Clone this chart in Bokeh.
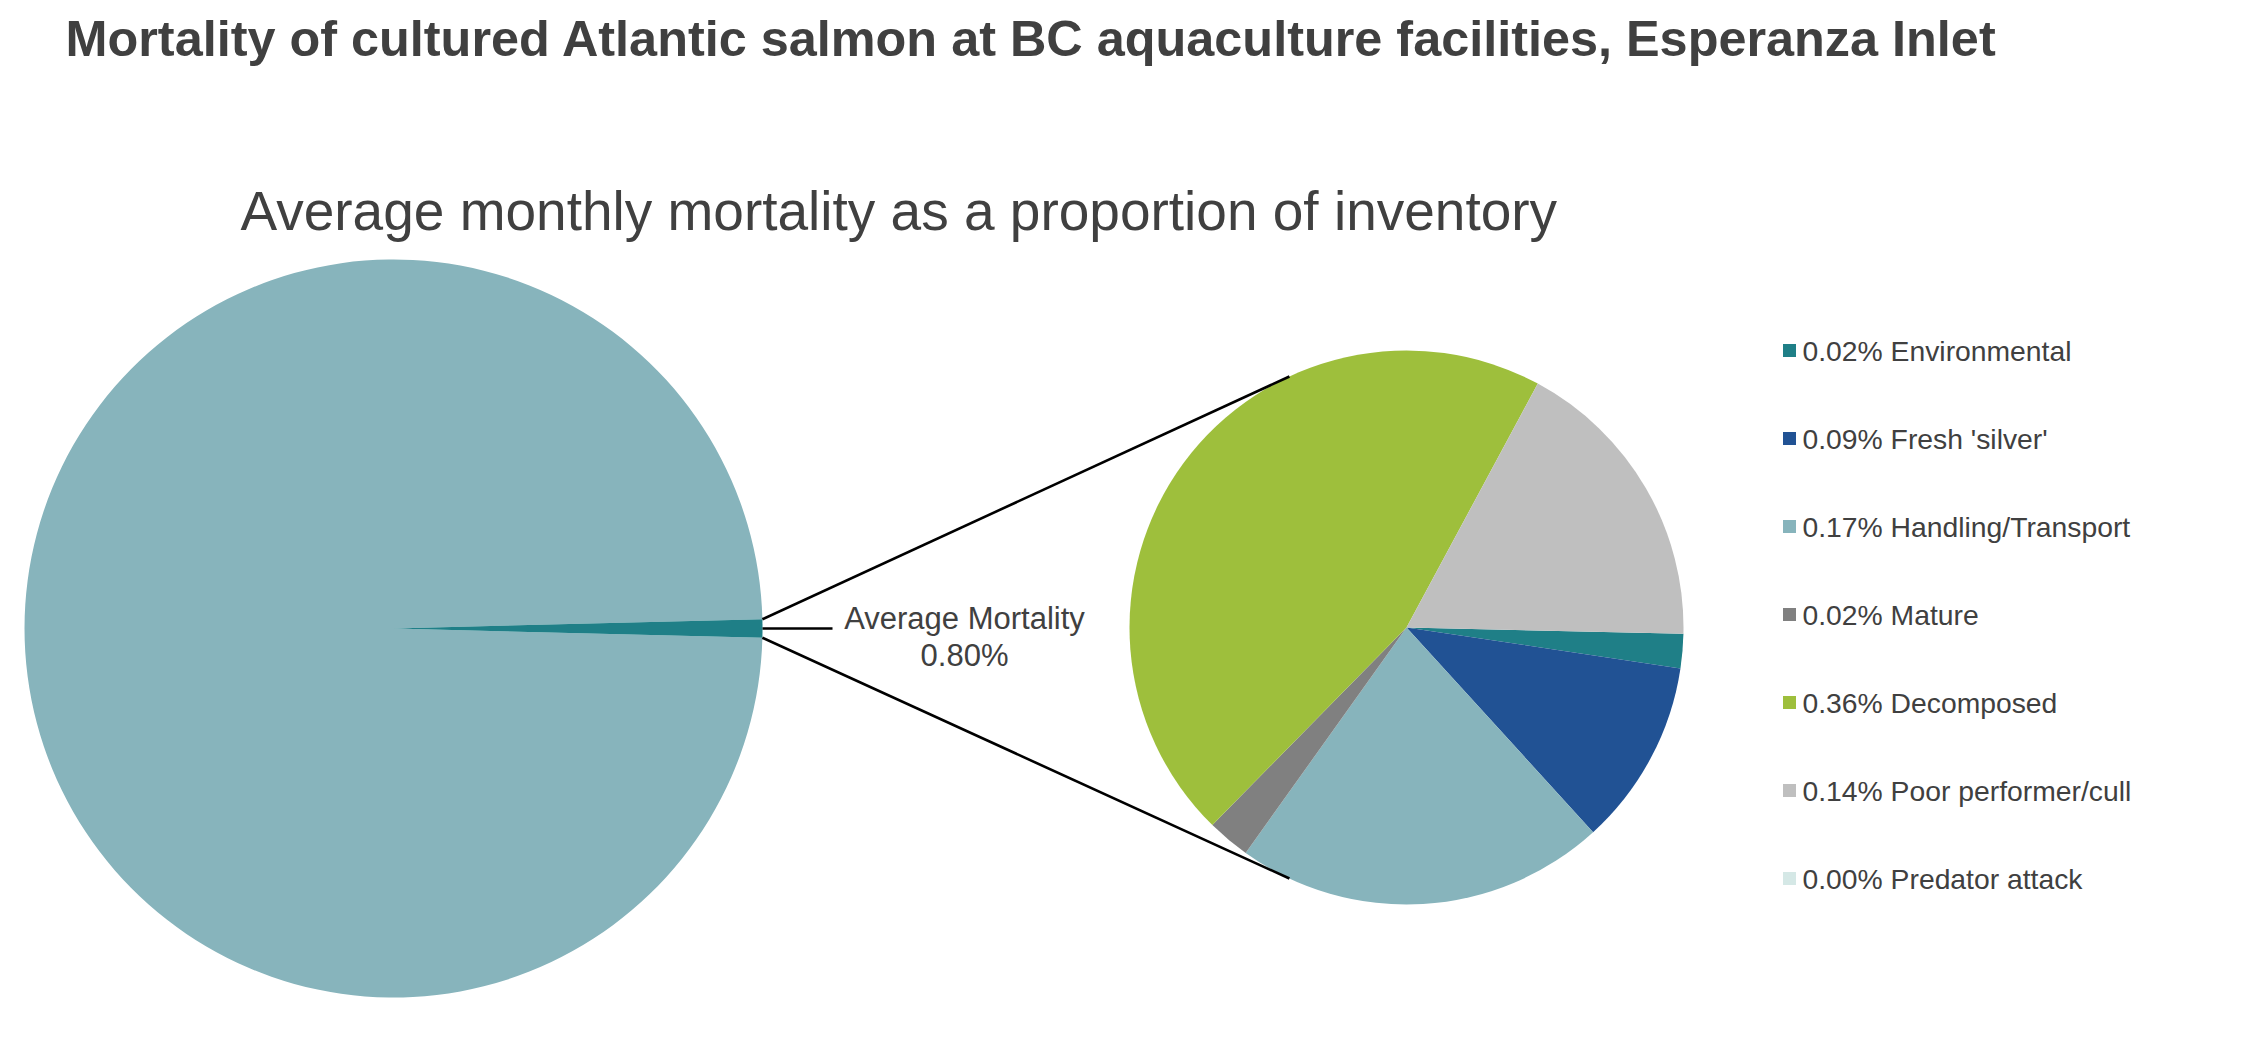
import numpy as np
from bokeh.plotting import figure
from bokeh.models import Range1d
from bokeh.core.properties import value
from bokeh.embed import file_html
from bokeh.resources import INLINE

# ---------------- data ----------------
title_text = "Mortality of cultured Atlantic salmon at BC aquaculture facilities, Esperanza Inlet"
subtitle_text = "Average monthly mortality as a proportion of inventory"

categories = ["Environmental", "Fresh 'silver'", "Handling/Transport", "Mature",
              "Decomposed", "Poor performer/cull", "Predator attack"]
mortality_pct = [0.016, 0.087, 0.173, 0.020, 0.364, 0.140, 0.000]
colors = ["#1F7F87", "#215294", "#87B4BC", "#808080", "#9EBF3C", "#BFBFBF", "#D5E8E6"]

average_mortality_pct = 0.80
average_label = "Average Mortality"
survival_color = "#87B4BC"
mortality_color = "#1F7F87"

# ---------------- layout ----------------
W, H = 2236, 1023
FONT = value("Liberation Sans")
TXT = "#404040"


def X(px):
    return px


def Y(py):
    return H - py


p = figure(width=W, height=H, x_range=Range1d(0, W), y_range=Range1d(0, H),
           output_backend="svg", toolbar_location=None, min_border=0,
           x_axis_type=None, y_axis_type=None)
p.grid.visible = False
p.outline_line_color = None
p.background_fill_color = "white"
p.border_fill_color = "white"

# left pie (whole inventory)
lc_x, lc_y, lr = X(393), Y(628), 369
half = average_mortality_pct / 100.0 * 360.0 / 2.0
p.wedge(x=[lc_x], y=[lc_y], radius=lr,
        start_angle=[np.radians(half)], end_angle=[np.radians(360 - half)],
        fill_color=survival_color, line_color=None)
p.wedge(x=[lc_x], y=[lc_y], radius=lr,
        start_angle=[np.radians(-half)], end_angle=[np.radians(half)],
        fill_color=mortality_color, line_color=None)

# right pie (breakdown of mortality), clockwise from start
rc_x, rc_y, rr = X(1406), Y(627), 277
vals = np.array(mortality_pct, dtype=float)
spans = vals / vals.sum() * 360.0
start_deg = -1.3
ends = start_deg - np.cumsum(spans)
starts = ends + spans
for s, e, c, v in zip(starts, ends, colors, vals):
    if v > 0:
        p.wedge(x=[rc_x], y=[rc_y], radius=rr,
                start_angle=[np.radians(e)], end_angle=[np.radians(s)],
                fill_color=c, line_color=None)

# connector lines
conn_deg = 115.0
for sgn in (1, -1):
    x0 = lc_x + lr * np.cos(np.radians(sgn * half))
    y0 = lc_y + lr * np.sin(np.radians(sgn * half))
    x1 = rc_x + rr * np.cos(np.radians(sgn * conn_deg))
    y1 = rc_y + rr * np.sin(np.radians(sgn * conn_deg))
    p.line(x=[x0, x1], y=[y0, y1], line_color="black", line_width=2.6)

# leader and label for average mortality
tip_x = lc_x + lr
p.line(x=[tip_x, X(832)], y=[lc_y, lc_y], line_color="black", line_width=2.6)
p.text(x=[X(964), X(964)], y=[Y(618), Y(655)],
       text=[average_label, f"{average_mortality_pct:.2f}%"],
       text_font=FONT, text_font_size="31px", text_color=TXT,
       text_align="center", text_baseline="middle")

# titles
p.text(x=[X(65)], y=[Y(38)], text=[title_text], text_font=FONT,
       text_font_size="50.4px", text_font_style="bold", text_color=TXT,
       text_align="left", text_baseline="alphabetic")
p.text(x=[X(240)], y=[Y(210)], text=[subtitle_text], text_font=FONT,
       text_font_size="55px", text_color=TXT,
       text_align="left", text_baseline="alphabetic")

# legend
leg_y = [Y(350 + 88 * i) for i in range(len(categories))]
leg_labels = [f"{v:.2f}% {c}" for v, c in zip(mortality_pct, categories)]
p.scatter(x=[X(1789)] * len(categories), y=leg_y, marker="square", size=13,
          fill_color=colors, line_color=None)
p.text(x=[X(1802)] * len(categories), y=leg_y, text=leg_labels, text_font=FONT,
       text_font_size="28.3px", text_color=TXT, text_align="left",
       text_baseline="middle")

open("out.html", "w").write(file_html(p, INLINE))
